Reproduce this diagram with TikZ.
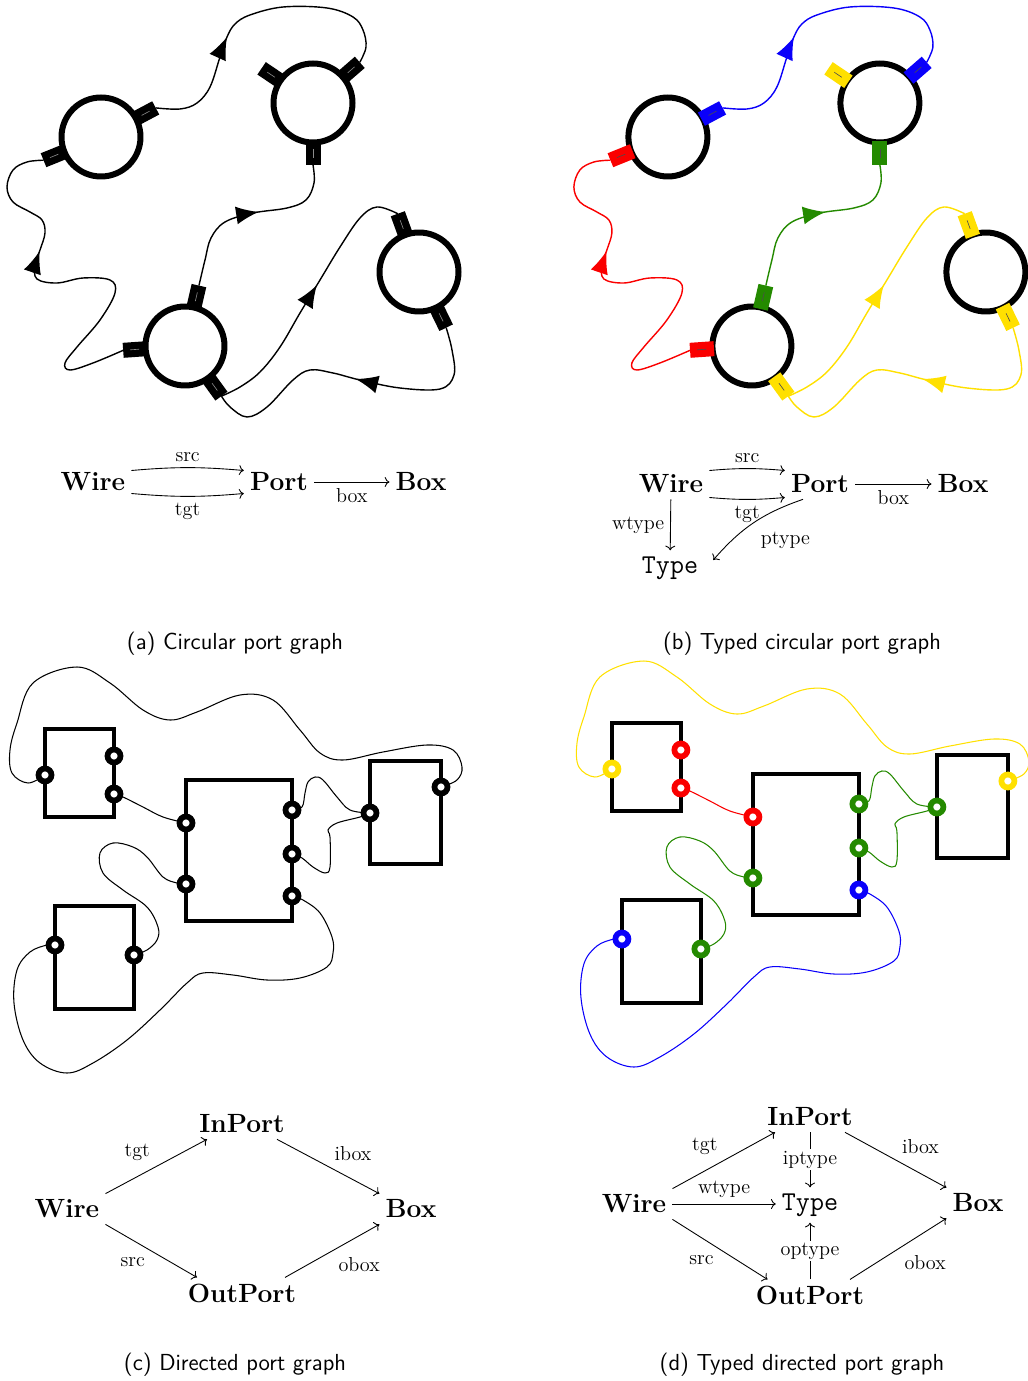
\documentclass[tikz,border=0pt]{standalone}
\usepackage{amsmath,amsfonts}
\usetikzlibrary{calc,arrows.meta,decorations.markings,backgrounds}

\definecolor{tblue}{RGB}{10,0,250}
\definecolor{tred}{RGB}{250,0,0}
\definecolor{tgreen}{RGB}{36,138,0}
\definecolor{tyellow}{RGB}{255,224,0}

\tikzset{
  cnode/.style={circle, draw, line width=0.12cm, minimum size=1.58cm, inner sep=0pt},
  bnode/.style={rectangle, draw, line width=0.09cm, inner sep=0pt},
  rport/.style={circle, draw=#1, fill=white, line width=0.115cm, minimum size=0.26cm, inner sep=0pt},
  wire/.style={#1, line width=0.8pt},
  thinwire/.style={#1, line width=0.6pt},
  arrowat/.style={postaction={decorate, decoration={markings,
      mark=at position #1 with {\arrow{Latex[length=0.45cm, width=0.36cm]}}}}},
  obj/.style={font=\fontsize{15}{18}\selectfont\bfseries},
  typ/.style={font=\fontsize{15.5}{18}\selectfont\ttfamily},
  lbl/.style={font=\fontsize{11.5}{13}\selectfont},
  subcap/.style={font=\fontsize{13.2}{15}\selectfont\sffamily},
  map/.style={->, line width=0.5pt},
}

% port on a circle: circle, angle, colour, name of the free end, mark colour
\newcommand{\cport}[5]{%
  \draw[line width=0.3cm, #3] ($(#1)+(#2:0.76cm)$) -- ($(#1)+(#2:1.24cm)$) coordinate (#4);
  \draw[line width=0.35pt, #5] ($(#1)+(#2:0.92cm)$) -- ($(#1)+(#2:1.1cm)$);
}

% circular port graph, colours: blue, red, green, yellow type, mark
\newcommand{\circgraph}[5]{%
  \node[cnode] (c1) at (101,137) {};
  \node[cnode] (c2) at (313,103) {};
  \node[cnode] (c3) at (185,346) {};
  \node[cnode] (c4) at (419,272) {};
  \cport{c1}{28}{#1}{c1r}{#5}
  \cport{c1}{202}{#2}{c1l}{#5}
  \cport{c2}{146}{#4}{c2l}{#5}
  \cport{c2}{41}{#1}{c2r}{#5}
  \cport{c2}{-90}{#3}{c2b}{#5}
  \cport{c3}{77}{#3}{c3t}{#5}
  \cport{c3}{184}{#2}{c3l}{#5}
  \cport{c3}{-54}{#4}{c3r}{#5}
  \cport{c4}{110}{#4}{c4t}{#5}
  \cport{c4}{-64}{#4}{c4b}{#5}
  \draw[wire=#1, arrowat=0.38] plot[smooth, tension=0.6] coordinates {(c1r) (180,109) (197,103) (210,87)
    (220,57) (227,37) (235,24) (250,15) (283,7) (327,8) (353,17) (363,30) (366,47) (c2r)};
  \draw[wire=#2, arrowat=0.67] plot[smooth, tension=0.6] coordinates {(c3l) (93,363) (70,370) (65,363)
    (77,347) (100,320) (115,293) (110,280) (83,278) (57,283) (37,279) (35,265) (40,250) (45,233)
    (42,220) (30,212) (13,202) (7,187) (13,170) (27,162) (c1l)};
  \draw[wire=#3, arrowat=0.55] plot[smooth, tension=0.6] coordinates {(c3t) (205,260) (211,238) (225,222)
    (253,213) (287,208) (306,200) (314,183) (c2b)};
  \draw[wire=#4, arrowat=0.55] plot[smooth, tension=0.6] coordinates {(c3r) (240,387) (260,372) (280,347)
    (300,313) (320,280) (340,247) (360,218) (377,207) (c4t)};
  \draw[wire=#4, arrowat=0.49] plot[smooth, tension=0.6] coordinates {(c4b) (452,350) (454,375) (440,389)
    (400,388) (360,380) (333,373) (310,370) (293,380) (267,407) (247,417) (230,407) (c3r)};
}

% directed port graph, colours: blue, red, green, yellow type
\newcommand{\rectgraph}[4]{%
  \node[bnode, minimum width=1.38cm, minimum height=1.76cm] (bA) at (79.5,773) {};
  \node[bnode, minimum width=2.12cm, minimum height=2.82cm] (bB) at (239,850.5) {};
  \node[bnode, minimum width=1.42cm, minimum height=2.06cm] (bC) at (405.5,812.5) {};
  \node[bnode, minimum width=1.58cm, minimum height=2.06cm] (bD) at (94.5,957.5) {};
  \node[rport=#4] (pA1) at (45,775) {};
  \node[rport=#2] (pA2) at (114,756) {};
  \node[rport=#2] (pA3) at (114,794) {};
  \node[rport=#2] (pB1) at (186,823) {};
  \node[rport=#3] (pB2) at (186,884) {};
  \node[rport=#3] (pB3) at (292,810) {};
  \node[rport=#3] (pB4) at (292,854) {};
  \node[rport=#1] (pB5) at (292,896) {};
  \node[rport=#3] (pC1) at (370,813) {};
  \node[rport=#4] (pC2) at (441,787) {};
  \node[rport=#1] (pD1) at (55,945) {};
  \node[rport=#3] (pD2) at (134,955) {};
  \begin{scope}[on background layer]
    \draw[thinwire=#4] plot[smooth, tension=0.6] coordinates {(pA1) (28,783) (12,773) (10,750) (17,723)
      (33,683) (77,667) (110,683) (143,710) (170,720) (197,712) (240,695) (273,700) (300,730)
      (320,753) (343,760) (383,752) (427,745) (453,750) (462,767) (457,780) (pC2)};
    \draw[thinwire=#2] plot[smooth, tension=0.6] coordinates {(pA3) (123,797) (143,807) (163,817) (pB1)};
    \draw[thinwire=#3] plot[smooth, tension=0.6] coordinates {(pB3) (302,807) (305,793) (308,782)
      (315,777) (323,780) (337,797) (350,810) (pC1)};
    \draw[thinwire=#3] plot[smooth, tension=0.6] coordinates {(pB4) (302,858) (313,867) (325,873)
      (330,867) (330,837) (328,830) (337,823) (360,817) (pC1)};
    \draw[thinwire=#3] plot[smooth, tension=0.6] coordinates {(pB2) (177,883) (163,877) (147,857)
      (133,847) (113,843) (100,853) (103,873) (123,890) (147,907) (158,927) (157,940) (147,950) (pD2)};
    \draw[thinwire=#1] plot[smooth, tension=0.6] coordinates {(pB5) (303,900) (320,913) (332,937)
      (333,953) (327,967) (300,978) (267,980) (233,975) (203,973) (187,983) (160,1010) (127,1040)
      (93,1063) (67,1073) (40,1063) (23,1040) (14,1003) (17,970) (30,952) (47,945) (pD1)};
  \end{scope}
}

\begin{document}
\begin{tikzpicture}[x=0.02cm, y=-0.02cm]
  \useasboundingbox (0,0) rectangle (1027,1381);

  % (a) and (b)
  \begin{scope}[name prefix=a-]
    \circgraph{black}{black}{black}{black}{black!45}
  \end{scope}
  \begin{scope}[xshift=11.34cm, name prefix=b-]
    \circgraph{tblue}{tred}{tgreen}{tyellow}{black!70}
  \end{scope}

  \node[obj] (wa) at (93,482) {Wire};
  \node[obj] (pa) at (279,482) {Port};
  \node[obj] (ba) at (421,482) {Box};
  \draw[map] ([yshift=0.23cm]wa.east) to[bend left=5] node[lbl, above] {src} ([yshift=0.23cm]pa.west);
  \draw[map] ([yshift=-0.23cm]wa.east) to[bend right=5] node[lbl, below] {tgt} ([yshift=-0.23cm]pa.west);
  \draw[map] (pa) -- node[lbl, below] {box} (ba);

  \node[obj] (wb) at (671,484) {Wire};
  \node[obj] (pb) at (820,484) {Port};
  \node[obj] (bb) at (963,484) {Box};
  \node[typ] (tb) at (670,568) {Type};
  \draw[map] ([yshift=0.27cm]wb.east) to[bend left=5] node[lbl, above] {src} ([yshift=0.27cm]pb.west);
  \draw[map] ([yshift=-0.27cm]wb.east) to[bend right=5] node[lbl, below] {tgt} ([yshift=-0.27cm]pb.west);
  \draw[map] (pb) -- node[lbl, below] {box} (bb);
  \draw[map] (wb) -- node[lbl, left] {wtype} (tb);
  \draw[map] ([xshift=-0.34cm]pb.south) to[bend right=15] node[lbl, pos=0.55, anchor=north west, xshift=3pt] {ptype}
    ([shift={(0.18cm,0.16cm)}]tb.east);

  \node[subcap] (capa) at (235,644) {(a) Circular port graph};
  \node[subcap] (capb) at (802,644) {(b) Typed circular port graph};

  % (c) and (d)
  \begin{scope}[name prefix=c-]
    \rectgraph{black}{black}{black}{black}
  \end{scope}
  \begin{scope}[xshift=11.34cm, yshift=0.12cm, name prefix=d-]
    \rectgraph{tblue}{tred}{tgreen}{tyellow}
  \end{scope}

  \node[obj] (ic) at (242,1124) {InPort};
  \node[obj] (wc) at (67,1209) {Wire};
  \node[obj] (bc) at (411,1209) {Box};
  \node[obj] (oc) at (242,1293) {OutPort};
  \draw[map] (wc.north east) -- node[lbl, above left] {tgt} ([xshift=-0.7cm]ic.south);
  \draw[map] ([xshift=0.7cm]ic.south) -- node[lbl, above right] {ibox} (bc.north west);
  \draw[map] (wc.south east) -- node[lbl, below left] {src} ([xshift=-0.9cm]oc.north);
  \draw[map] ([xshift=0.86cm]oc.north) -- node[lbl, below right] {obox} (bc.south west);

  \node[obj] (id) at (810,1117) {InPort};
  \node[obj] (wd) at (634,1204) {Wire};
  \node[typ] (td) at (810,1205) {Type};
  \node[obj] (bd) at (978,1203) {Box};
  \node[obj] (od) at (810,1295) {OutPort};
  \draw[map] (wd.north east) -- node[lbl, above left] {tgt} ([xshift=-0.7cm]id.south);
  \draw[map] ([xshift=0.7cm]id.south) -- node[lbl, above right] {ibox} (bd.north west);
  \draw[map] (wd.east) -- node[lbl, above] {wtype} (td.west |- wd.east);
  \draw[map] (wd.south east) -- node[lbl, below left] {src} ([xshift=-0.85cm]od.north);
  \draw[map] ([xshift=0.8cm]od.north) -- node[lbl, below right] {obox} (bd.south west);
  \draw[map] (id) -- node[lbl, fill=white, inner sep=1pt] {iptype} (td);
  \draw[map] (od) -- node[lbl, fill=white, inner sep=1pt] {optype} (td);

  \node[subcap] (capc) at (235,1365) {(c) Directed port graph};
  \node[subcap] (capd) at (802,1365) {(d) Typed directed port graph};
\end{tikzpicture}
\end{document}
